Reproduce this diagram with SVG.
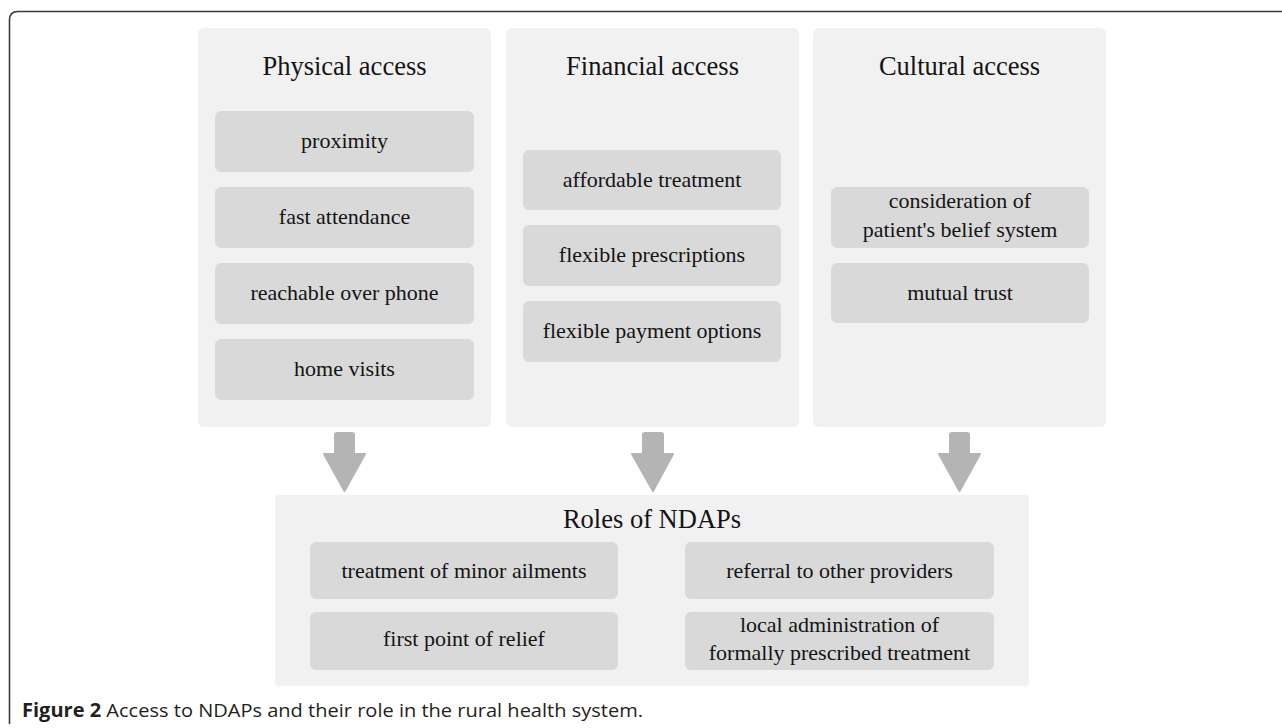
<svg xmlns="http://www.w3.org/2000/svg" width="1282" height="728" viewBox="0 0 1282 728">
<style>
.panel{fill:#f1f1f1}
.box{fill:#d9d9d9}
.title{font-family:"Liberation Serif",serif;font-size:26.5px;fill:#141414;text-anchor:middle}
.item{font-family:"Liberation Serif",serif;font-size:22px;fill:#141414;text-anchor:middle}
.arrow{fill:#b4b4b4;stroke:#b4b4b4;stroke-width:2;stroke-linejoin:round}
.cap{font-family:"Open Sans",sans-serif;font-size:19px;fill:#231f20}
</style>
<rect width="1282" height="728" fill="#ffffff"/>
<path d="M9.5 724 V20 Q9.5 11.5 18 11.5 H1282" fill="none" stroke="#3a3a3a" stroke-width="1.6"/>

<g id="physical">
<rect class="panel" x="198" y="28" width="293" height="399" rx="6"/>
<text class="title" x="344.5" y="75">Physical access</text>
<rect class="box" x="215" y="111" width="259" height="61" rx="6"/>
<text class="item" x="344.5" y="148">proximity</text>
<rect class="box" x="215" y="187" width="259" height="61" rx="6"/>
<text class="item" x="344.5" y="224">fast attendance</text>
<rect class="box" x="215" y="263" width="259" height="61" rx="6"/>
<text class="item" x="344.5" y="300">reachable over phone</text>
<rect class="box" x="215" y="339" width="259" height="61" rx="6"/>
<text class="item" x="344.5" y="376">home visits</text>
</g>

<g id="financial">
<rect class="panel" x="506" y="28" width="293" height="399" rx="6"/>
<text class="title" x="652.5" y="75">Financial access</text>
<rect class="box" x="523" y="150" width="258" height="60" rx="6"/>
<text class="item" x="652" y="187">affordable treatment</text>
<rect class="box" x="523" y="225" width="258" height="61" rx="6"/>
<text class="item" x="652" y="262">flexible prescriptions</text>
<rect class="box" x="523" y="301" width="258" height="61" rx="6"/>
<text class="item" x="652" y="338">flexible payment options</text>
</g>

<g id="cultural">
<rect class="panel" x="813" y="28" width="293" height="399" rx="6"/>
<text class="title" x="959.5" y="75">Cultural access</text>
<rect class="box" x="831" y="187" width="258" height="61" rx="6"/>
<text class="item" x="960" y="208">consideration of</text>
<text class="item" x="960" y="237">patient's belief system</text>
<rect class="box" x="831" y="263" width="258" height="60" rx="6"/>
<text class="item" x="960" y="300">mutual trust</text>
</g>

<g id="connectors">
<path class="arrow" d="M335 454 V435 Q335 433 337 433 H352 Q354 433 354 435 V454 H365 L344.5 491 L324 454 Z"/>
<path class="arrow" d="M643 454 V435 Q643 433 645 433 H661 Q663 433 663 435 V454 H673 L653 491 L632 454 Z"/>
<path class="arrow" d="M950 454 V435 Q950 433 952 433 H967 Q969 433 969 435 V454 H980 L959.5 491 L939 454 Z"/>
</g>

<g id="roles">
<rect class="panel" x="275" y="495" width="754" height="191" rx="3"/>
<text class="title" x="652" y="528">Roles of NDAPs</text>
<rect class="box" x="310" y="542" width="308" height="57" rx="6"/>
<text class="item" x="464" y="578">treatment of minor ailments</text>
<rect class="box" x="310" y="612" width="308" height="58" rx="6"/>
<text class="item" x="464" y="646">first point of relief</text>
<rect class="box" x="685" y="542" width="309" height="57" rx="6"/>
<text class="item" x="839.5" y="578">referral to other providers</text>
<rect class="box" x="685" y="612" width="309" height="58" rx="6"/>
<text class="item" x="839.5" y="632">local administration of</text>
<text class="item" x="839.5" y="660">formally prescribed treatment</text>
</g>

<text class="cap" x="22" y="717" textLength="621" lengthAdjust="spacingAndGlyphs"><tspan font-weight="bold">Figure 2</tspan> Access to NDAPs and their role in the rural health system.</text>
</svg>
